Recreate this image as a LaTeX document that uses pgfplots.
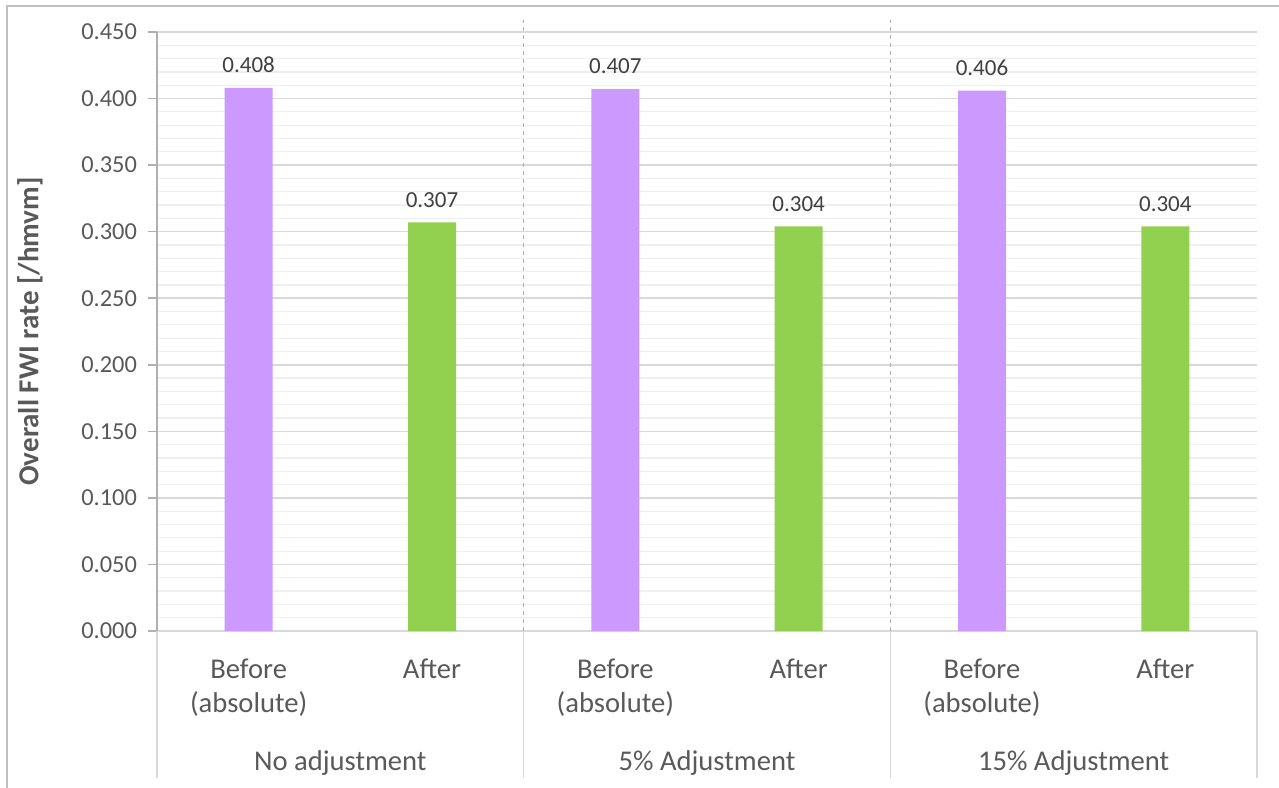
\documentclass[border=0pt]{standalone}
\usepackage{pgfplots}
\pgfplotsset{compat=1.18}
\usepackage{fontspec}
\setmainfont{Carlito}
\definecolor{barPurple}{HTML}{CC99FF}
\definecolor{barGreen}{HTML}{92D050}
\definecolor{txtGray}{HTML}{595959}
\definecolor{lblGray}{HTML}{404040}
\definecolor{majGrid}{HTML}{D9D9D9}
\definecolor{minGrid}{HTML}{EFEFEF}
\definecolor{axGray}{HTML}{B0B0B0}
\definecolor{frameGray}{HTML}{BFBFBF}
\begin{document}
\begin{tikzpicture}
\useasboundingbox (0,0) rectangle (639.5pt,393.5pt);
% chart area border (cropped on right and bottom)
\draw[frameGray, line width=1pt] (3.5pt,-2pt) -- (3.5pt,390.5pt) -- (642pt,390.5pt);
\begin{axis}[
  at={(78.5pt,78pt)}, anchor=south west,
  scale only axis, width=550pt, height=299.5pt,
  xmin=-0.5, xmax=5.5, ymin=0, ymax=0.45,
  ybar, bar width=24pt, bar shift=0pt,
  clip=false,
  axis line style={majGrid, line width=0.8pt},
  axis x line*=bottom, axis y line*=left,
  y axis line style={axGray},
  xtick={0,...,5},
  xticklabels={{Before\\(absolute)},After,{Before\\(absolute)},After,{Before\\(absolute)},After},
  xticklabel style={align=center, anchor=north, text=txtGray, font=\fontsize{14.3pt}{17pt}\selectfont, yshift=-6pt},
  x tick style={draw=none},
  ytick={0,0.05,...,0.45},
  minor y tick num=4,
  ymajorgrids, yminorgrids,
  major grid style={majGrid, line width=0.8pt},
  minor grid style={minGrid, line width=0.6pt},
  y tick style={axGray, line width=0.8pt},
  major tick length=4.5pt, minor tick length=0pt,
  tick align=outside,
  yticklabel style={text=txtGray, font=\fontsize{12.2pt}{14pt}\selectfont, xshift=-2pt},
  /pgf/number format/.cd, fixed, fixed zerofill, precision=3, assume math mode=true,
  /pgfplots/.cd,
  nodes near coords,
  nodes near coords style={text=lblGray, font=\fontsize{11.5pt}{13pt}\selectfont, /pgf/number format/fixed, /pgf/number format/fixed zerofill, /pgf/number format/precision=3, /pgf/number format/assume math mode=true, yshift=4pt},
]
\addplot[fill=barPurple, draw=none] coordinates {(0,0.408) (2,0.407) (4,0.406)};
\addplot[fill=barGreen, draw=none] coordinates {(1,0.307) (3,0.304) (5,0.304)};
% dashed group separators inside the plot
\draw[axGray, line width=0.5pt, dash pattern=on 2pt off 2pt] (axis cs:1.5,0) -- (axis cs:1.5,0.459);
\draw[axGray, line width=0.5pt, dash pattern=on 2pt off 2pt] (axis cs:3.5,0) -- (axis cs:3.5,0.459);
% group separators below the axis
\pgfplotsinvokeforeach{-0.5,1.5,3.5,5.5}{
  \draw[majGrid, line width=0.8pt] (axis cs:#1,0) -- ([yshift=-73.5pt]axis cs:#1,0);
}
% group labels
\node[text=txtGray, font=\fontsize{14.3pt}{17pt}\selectfont] at ([yshift=-66pt]axis cs:0.5,0) {No adjustment};
\node[text=txtGray, font=\fontsize{14.3pt}{17pt}\selectfont] at ([yshift=-66pt]axis cs:2.5,0) {5\% Adjustment};
\node[text=txtGray, font=\fontsize{14.3pt}{17pt}\selectfont] at ([yshift=-66pt]axis cs:4.5,0) {15\% Adjustment};
% y label
\node[rotate=90, text=txtGray, font=\bfseries\fontsize{14.5pt}{17pt}\selectfont] at ([xshift=-63.5pt]rel axis cs:0,0.5) {Overall FWI rate [/hmvm]};
\end{axis}
\end{tikzpicture}
\end{document}
